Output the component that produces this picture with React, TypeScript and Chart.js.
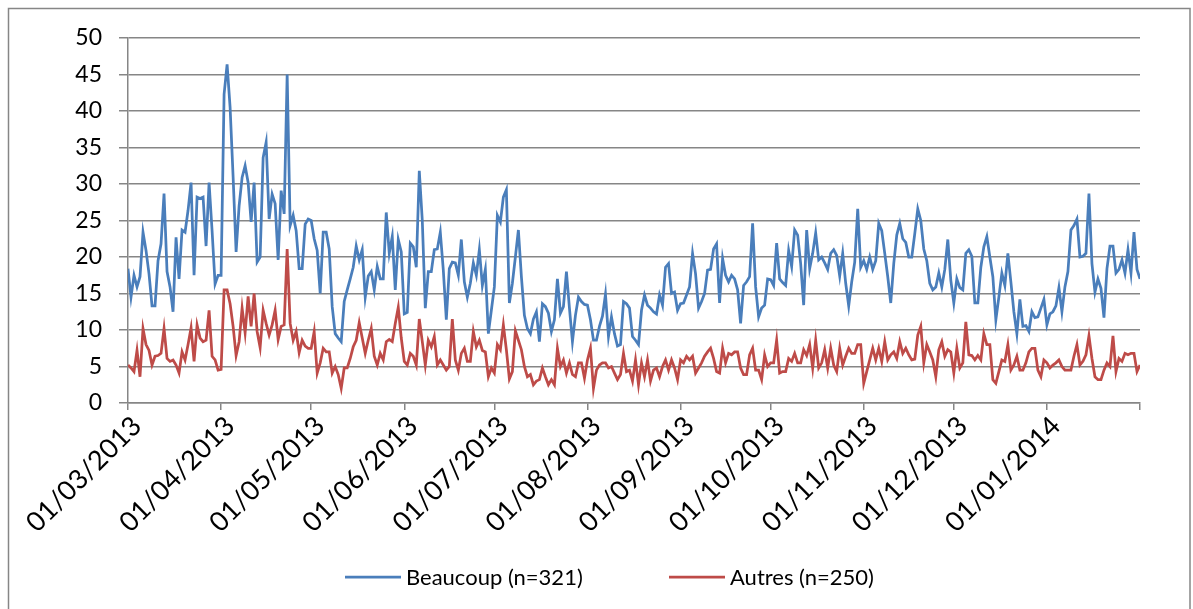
import { useEffect, useRef } from 'react';
import { Chart, registerables } from 'chart.js';

Chart.register(...registerables);

// ---- data ----
const startDate = '01/03/2013';
const monthTicks = [
  '01/03/2013', '01/04/2013', '01/05/2013', '01/06/2013', '01/07/2013', '01/08/2013',
  '01/09/2013', '01/10/2013', '01/11/2013', '01/12/2013', '01/01/2014', '01/02/2014',
];
const seriesLabels = ['Beaucoup (n=321)', 'Autres (n=250)'];
const seriesColors = ['#4A7EBB', '#BE4B48'];

// daily values from 01/03/2013
const beaucoup = [
  18.4, 14.5, 17.5, 15.9, 17.3, 23.4, 20.9, 17.7, 13.3, 13.3, 19.5, 21.8, 28.7, 18.0, 15.9, 12.5,
  22.7, 17.0, 23.7, 23.4, 26.4, 30.2, 17.5, 28.2, 28.0, 28.2, 21.5, 30.2, 23.6, 16.3, 17.5, 17.5,
  42.3, 46.4, 40.5, 31.0, 20.7, 27.0, 30.9, 32.5, 30.2, 24.8, 30.2, 19.3, 20.0, 33.6, 35.7, 25.2,
  28.6, 27.3, 19.6, 29.1, 25.9, 45.0, 24.3, 25.7, 23.6, 18.4, 18.4, 24.5, 25.2, 25.0, 22.5, 20.9,
  15.0, 23.4, 23.4, 21.1, 13.2, 9.5, 8.9, 8.4, 13.9, 15.5, 17.0, 18.6, 21.5, 19.6, 21.0, 14.5,
  17.4, 18.0, 15.5, 18.7, 17.0, 17.0, 26.1, 20.5, 22.8, 15.5, 22.4, 20.7, 12.2, 12.4, 21.9, 21.4,
  18.6, 31.8, 25.0, 13.0, 18.0, 18.0, 21.0, 21.1, 23.4, 18.2, 11.4, 18.4, 19.3, 19.2, 17.5, 22.4,
  16.6, 14.5, 16.4, 19.2, 17.5, 21.0, 16.1, 18.3, 9.5, 12.7, 15.9, 25.7, 24.8, 28.2, 29.2, 13.7,
  16.4, 20.0, 23.7, 17.3, 12.0, 10.2, 9.5, 11.5, 12.5, 8.4, 13.6, 13.2, 12.3, 9.8, 11.4, 17.0,
  12.3, 13.2, 18.0, 13.0, 8.4, 12.0, 14.5, 13.9, 13.5, 13.4, 11.4, 8.6, 8.6, 10.5, 11.9, 14.9,
  9.1, 11.8, 9.5, 7.8, 8.0, 13.9, 13.6, 13.0, 9.1, 8.6, 8.0, 12.7, 14.8, 13.4, 13.0, 12.5,
  12.2, 14.8, 13.4, 18.6, 19.1, 15.0, 15.2, 12.7, 13.6, 13.7, 14.8, 15.9, 20.5, 17.7, 13.0, 13.9,
  15.0, 18.2, 18.3, 21.1, 21.8, 13.7, 19.8, 17.5, 16.6, 17.5, 17.0, 15.5, 10.9, 16.1, 16.6, 17.3,
  24.6, 15.9, 11.8, 13.0, 13.4, 17.0, 16.9, 16.1, 21.9, 17.0, 16.5, 16.1, 20.9, 18.7, 23.7, 23.0,
  19.1, 13.4, 23.7, 18.4, 20.5, 23.3, 19.6, 20.0, 19.2, 18.3, 20.5, 21.0, 20.2, 17.4, 20.5, 16.4,
  13.3, 16.6, 19.3, 26.6, 18.6, 19.5, 18.3, 20.0, 18.3, 19.5, 24.6, 23.6, 20.5, 17.3, 13.7, 19.1,
  23.0, 24.6, 22.5, 22.0, 20.0, 20.0, 23.2, 26.6, 25.0, 21.1, 19.5, 16.4, 15.5, 15.9, 17.8, 15.9,
  18.3, 22.4, 16.8, 13.7, 17.0, 15.8, 15.5, 20.5, 21.0, 20.1, 13.7, 13.7, 18.6, 21.4, 22.8, 20.0,
  17.3, 11.4, 14.5, 17.8, 16.1, 20.5, 16.6, 12.5, 9.5, 14.2, 10.5, 10.6, 9.8, 12.5, 11.7, 11.8,
  13.0, 14.2, 10.7, 12.2, 12.5, 13.3, 15.8, 12.5, 15.9, 18.0, 23.7, 24.3, 25.2, 20.0, 20.1, 20.5,
  28.7, 19.1, 15.2, 17.0, 15.7, 11.7, 18.4, 21.5, 21.5, 17.8, 18.3, 19.6, 17.8, 21.0, 17.8, 23.4,
  18.3, 17.0,
];

const autres = [
  5.2, 4.8, 4.3, 7.2, 3.6, 10.2, 8.0, 7.2, 5.2, 6.4, 6.5, 6.8, 10.2, 6.1, 5.7, 5.9,
  5.2, 4.1, 7.0, 5.9, 8.0, 10.3, 5.7, 10.7, 8.9, 8.4, 8.6, 12.7, 6.4, 5.9, 4.5, 4.6,
  15.5, 15.5, 13.6, 10.5, 6.5, 8.4, 13.0, 9.6, 14.6, 10.5, 15.0, 9.8, 7.6, 12.7, 10.9, 9.3,
  10.7, 12.7, 8.7, 10.5, 10.7, 21.1, 10.9, 8.6, 9.8, 6.9, 8.6, 7.8, 7.5, 7.5, 9.8, 4.1,
  5.5, 7.5, 7.0, 7.0, 4.1, 5.0, 3.9, 2.0, 4.8, 4.8, 6.1, 7.7, 8.6, 11.0, 8.9, 6.8,
  8.6, 10.2, 6.4, 5.2, 6.8, 5.9, 8.4, 8.7, 8.4, 10.9, 13.1, 8.9, 5.7, 5.2, 6.8, 6.4,
  5.2, 11.5, 8.4, 5.2, 8.6, 7.7, 9.1, 5.2, 5.9, 5.2, 4.5, 5.0, 11.5, 5.9, 4.5, 6.8,
  7.5, 5.7, 5.7, 9.8, 7.7, 8.6, 7.2, 7.0, 3.6, 4.8, 4.1, 8.0, 7.3, 10.7, 7.3, 3.3,
  4.3, 9.9, 8.6, 7.3, 5.0, 3.6, 3.9, 2.5, 3.0, 3.2, 4.8, 3.6, 2.5, 3.2, 2.5, 7.5,
  5.0, 5.9, 4.1, 5.5, 3.9, 3.6, 5.5, 5.5, 3.4, 5.9, 7.5, 2.0, 4.5, 5.2, 5.5, 5.5,
  4.8, 5.0, 4.1, 3.2, 3.9, 6.8, 4.3, 4.5, 3.0, 5.9, 2.5, 5.5, 3.6, 5.9, 3.0, 4.5,
  4.8, 3.6, 5.0, 5.9, 4.5, 5.9, 4.8, 3.2, 5.9, 5.5, 6.4, 5.9, 6.4, 4.1, 4.8, 5.5,
  6.4, 7.0, 7.5, 6.1, 4.3, 4.1, 7.5, 5.5, 6.8, 6.6, 7.0, 7.0, 4.8, 3.9, 3.9, 6.6,
  7.5, 4.5, 4.5, 3.2, 6.6, 5.0, 5.5, 5.5, 8.6, 4.1, 4.3, 4.3, 6.1, 5.7, 6.8, 5.5,
  5.5, 7.3, 6.5, 8.0, 4.8, 8.6, 4.8, 5.5, 7.3, 4.8, 7.5, 5.2, 4.3, 7.5, 5.2, 6.4,
  7.5, 6.8, 6.8, 8.0, 8.0, 2.7, 4.3, 5.9, 7.5, 5.9, 7.5, 5.7, 8.4, 5.9, 6.6, 7.0,
  6.1, 8.4, 6.8, 7.5, 6.6, 5.9, 6.0, 9.3, 10.5, 5.5, 8.0, 7.0, 5.9, 3.6, 7.3, 8.4,
  6.4, 7.3, 7.0, 4.1, 7.5, 4.8, 5.5, 11.1, 6.6, 6.5, 5.9, 6.5, 5.9, 9.5, 8.0, 8.0,
  3.2, 2.7, 4.3, 5.9, 5.7, 8.0, 4.5, 5.2, 6.4, 4.5, 4.5, 5.5, 7.0, 7.5, 7.5, 4.5,
  3.6, 5.9, 5.5, 4.8, 5.2, 5.5, 5.9, 5.0, 4.5, 4.5, 4.5, 6.4, 8.0, 5.2, 5.7, 6.6,
  9.2, 6.1, 3.6, 3.2, 3.2, 4.5, 5.5, 5.0, 9.2, 4.3, 6.1, 5.7, 6.8, 6.6, 6.8, 6.8,
  4.3, 5.2,
];

// ---- helpers ----
const parseDay = (s: string) => {
  const [d, m, y] = s.split('/').map(Number);
  return Date.UTC(y, m - 1, d) / 86400000;
};
const day0 = parseDay(startDate);
const tickDays = monthTicks.map((s) => parseDay(s) - day0);
const lastTick = tickDays[tickDays.length - 1];

const FONT = 'Lato, "Liberation Sans", sans-serif';
const GRID = '#868686';

const frameAndLegend = {
  id: 'frameAndLegend',
  beforeDraw(chart: any) {
    const { ctx } = chart;
    ctx.save();
    ctx.fillStyle = '#ffffff';
    ctx.fillRect(0, 0, chart.width, chart.height);
    ctx.strokeStyle = GRID;
    ctx.lineWidth = 1.5;
    ctx.strokeRect(8.5, 8.5, 1181.5, 700);
    ctx.restore();
  },
  afterDraw(chart: any) {
    const { ctx } = chart;
    const items = [
      { x: 345, label: seriesLabels[0], color: seriesColors[0] },
      { x: 669, label: seriesLabels[1], color: seriesColors[1] },
    ];
    const y = 577;
    ctx.save();
    ctx.font = `22px ${FONT}`;
    ctx.textBaseline = 'middle';
    ctx.textAlign = 'left';
    items.forEach((it) => {
      ctx.strokeStyle = it.color;
      ctx.lineWidth = 2.75;
      ctx.beginPath();
      ctx.moveTo(it.x, y);
      ctx.lineTo(it.x + 56, y);
      ctx.stroke();
      ctx.fillStyle = '#000000';
      ctx.fillText(it.label, it.x + 61, y + 1);
    });
    ctx.restore();
  },
};

export default function App() {
  const ref = useRef<HTMLCanvasElement | null>(null);

  useEffect(() => {
    if (!ref.current) return;
    const chart = new Chart(ref.current, {
      type: 'line',
      data: {
        datasets: [
          {
            label: seriesLabels[0],
            data: beaucoup.map((v, i) => ({ x: i, y: v })),
            borderColor: seriesColors[0],
            backgroundColor: seriesColors[0],
            borderWidth: 2.75,
            pointRadius: 0,
            tension: 0,
          },
          {
            label: seriesLabels[1],
            data: autres.map((v, i) => ({ x: i, y: v })),
            borderColor: seriesColors[1],
            backgroundColor: seriesColors[1],
            borderWidth: 2.75,
            pointRadius: 0,
            tension: 0,
          },
        ],
      },
      options: {
        responsive: false,
        animation: false,
        devicePixelRatio: 1,
        layout: { padding: { left: 0, top: 38, right: 53, bottom: 56 } },
        plugins: {
          legend: { display: false },
          tooltip: { enabled: false },
        },
        scales: {
          x: {
            type: 'linear',
            min: 0,
            max: lastTick,
            afterBuildTicks: (scale: any) => {
              scale.ticks = tickDays.map((v) => ({ value: v }));
            },
            afterFit: (scale: any) => {
              scale.height = 150;
            },
            ticks: {
              autoSkip: false,
              minRotation: 45,
              maxRotation: 45,
              padding: 0,
              labelOffset: 9,
              color: '#000000',
              font: { family: FONT, size: 27 },
              callback: (value: any) => {
                const idx = tickDays.indexOf(Number(value));
                if (idx < 0 || idx === tickDays.length - 1) return '';
                return monthTicks[idx];
              },
            },
            grid: {
              drawOnChartArea: false,
              drawTicks: true,
              tickLength: 7,
              color: GRID,
              lineWidth: 1.5,
            },
            border: { display: true, color: GRID, width: 1.5 },
          },
          y: {
            min: 0,
            max: 50,
            afterFit: (scale: any) => {
              scale.width = 128;
            },
            ticks: {
              stepSize: 5,
              padding: 17,
              color: '#000000',
              font: { family: FONT, size: 23 },
            },
            grid: {
              color: GRID,
              lineWidth: 1.5,
              tickLength: 9,
            },
            border: { display: true, color: GRID, width: 1.5 },
          },
        },
      },
      plugins: [frameAndLegend],
    });
    return () => chart.destroy();
  }, []);

  return (
    <div style={{ position: 'fixed', left: 0, top: 0, width: 1193, height: 609, overflow: 'hidden', background: '#fff' }}>
      <canvas ref={ref} width={1193} height={609} style={{ display: 'block', width: 1193, height: 609 }} />
    </div>
  );
}
